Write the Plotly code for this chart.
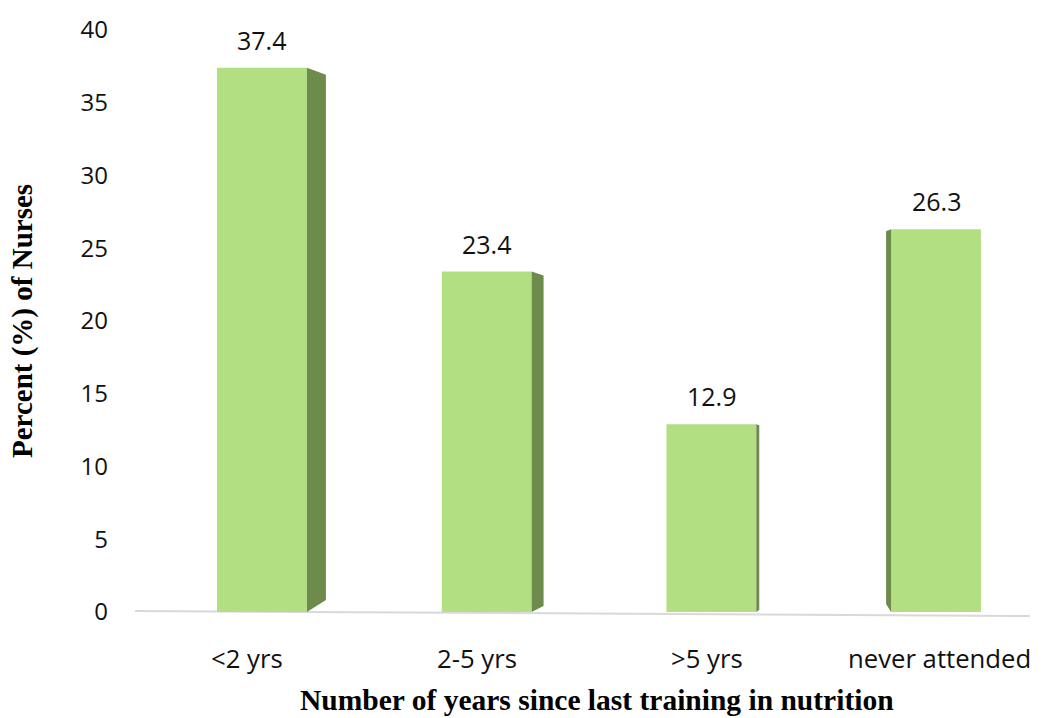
import plotly.graph_objects as go

# Survey result: time since nurses last attended nutrition training
categories = ["<2 yrs", "2-5 yrs", ">5 yrs", "never attended"]
percent = [37.4, 23.4, 12.9, 26.3]
y_ticks = [0, 5, 10, 15, 20, 25, 30, 35, 40]

FRONT = "#b3df83"
SIDE = "#6d8c4c"
TEXT_FONT = "Open Sans"
TITLE_FONT = "Liberation Serif"

# Pixel scale of the plot area (used to convert the 3-D look into data units)
PX_PER_X = 224.7
PX_PER_Y = 14.675
PLOT_H = 587
BAR_W = 0.4

# Perspective of each box: side-face depth (px, negative = left side),
# how far its top edge drops and its bottom edge rises (px)
side_depth = [19, 12, 3, -5]
side_top_drop = [7, 4, 1, 2]
side_bot_rise = [12, 6, 2, 8]
label_xshift = [-15, -10, -4, 3]

xs = list(range(len(categories)))

fig = go.Figure()

# Side faces of the boxes
for i, v in enumerate(percent):
    dx = side_depth[i] / PX_PER_X
    edge = xs[i] + (BAR_W / 2 if dx > 0 else -BAR_W / 2)
    top_d = side_top_drop[i] / PX_PER_Y
    bot_r = side_bot_rise[i] / PX_PER_Y
    fig.add_trace(go.Scatter(
        x=[edge, edge + dx, edge + dx, edge, edge],
        y=[0, bot_r, v - top_d, v, 0],
        fill="toself", fillcolor=SIDE, mode="lines",
        line=dict(width=0, color=SIDE), hoverinfo="skip", showlegend=False,
    ))

# Front faces
fig.add_trace(go.Bar(
    x=xs, y=percent, width=BAR_W,
    marker=dict(color=FRONT, line=dict(width=0)),
    showlegend=False,
))

annotations = []
# Value labels above each box
for i, v in enumerate(percent):
    annotations.append(dict(
        x=xs[i], y=v, xref="x", yref="y", text=f"{v:.1f}", showarrow=False,
        yanchor="middle", yshift=28,
        font=dict(family=TEXT_FONT, size=25, color="#111111"),
    ))
# Category labels below the floor line
for i, c in enumerate(categories):
    annotations.append(dict(
        x=xs[i], y=0, xref="x", yref="y", text=c, showarrow=False,
        yanchor="middle", yshift=-46, xshift=label_xshift[i],
        font=dict(family=TEXT_FONT, size=25.7, color="#111111"),
    ))
# Axis titles
annotations.append(dict(
    x=0.516, y=0, xref="paper", yref="paper", yshift=-88, showarrow=False,
    text="<b>Number of years since last training in nutrition</b>",
    yanchor="middle", font=dict(family=TITLE_FONT, size=29.5, color="#000000"),
))
annotations.append(dict(
    x=0, y=0.5, xref="paper", yref="paper", xshift=-113, showarrow=False,
    text="<b>Percent (%) of Nurses</b>", textangle=-90,
    xanchor="center", yanchor="middle",
    font=dict(family=TITLE_FONT, size=29, color="#000000"),
))

fig.update_layout(
    width=1047, height=718,
    margin=dict(l=135, r=17, t=25, b=106),
    paper_bgcolor="white", plot_bgcolor="white",
    annotations=annotations,
    # slightly tilted floor line
    shapes=[dict(
        type="line", xref="paper", yref="paper", x0=0, x1=1,
        y0=1 / PLOT_H, y1=-4 / PLOT_H,
        line=dict(color="#d9d9d9", width=2), layer="below",
    )],
    xaxis=dict(
        range=[-(262 - 135) / PX_PER_X, 3 + (1030 - 936) / PX_PER_X],
        showticklabels=False, showgrid=False, zeroline=False, showline=False,
        fixedrange=True,
    ),
    yaxis=dict(
        range=[0, 40], tickvals=y_ticks, showgrid=False, zeroline=False,
        showline=False, ticks="", ticklabelstandoff=26,
        tickfont=dict(family=TEXT_FONT, size=24, color="#111111"),
        fixedrange=True,
    ),
)

fig.write_html("out.html")
